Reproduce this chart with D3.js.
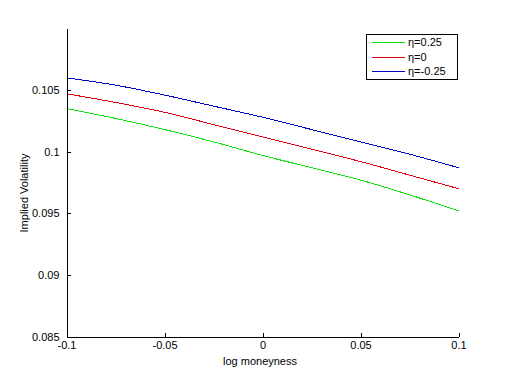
<!DOCTYPE html>
<html><head><meta charset="utf-8">
<script src="https://cdn.jsdelivr.net/npm/d3@7"></script>
<style>
html,body{margin:0;padding:0;background:#fff;}
text{font-family:"Liberation Sans",Arial,sans-serif;font-size:11px;fill:#000;}
</style></head>
<body>
<svg id="c" width="506" height="380"></svg>
<script>
const logMoneyness = [-0.1, -0.075, -0.05, -0.025, 0, 0.025, 0.05, 0.075, 0.1];
const etaPos = [0.1035, 0.1027, 0.1018, 0.1008, 0.0997, 0.0987, 0.0977, 0.0965, 0.0952];
const etaZero = [0.1047, 0.1040, 0.1032, 0.1022, 0.1012, 0.1002, 0.0992, 0.0981, 0.0970];
const etaNeg = [0.1060, 0.1054, 0.1046, 0.1037, 0.1028, 0.1018, 0.1008, 0.0998, 0.0987];
const seriesNames = ["η=0.25", "η=0", "η=-0.25"];
const seriesColors = ["#10e010", "#e00010", "#0000c0"];
const xTicks = [-0.1, -0.05, 0, 0.05, 0.1];
const xTickLabels = ["-0.1", "-0.05", "0", "0.05", "0.1"];
const yTicks = [0.085, 0.09, 0.095, 0.1, 0.105];
const yTickLabels = ["0.085", "0.09", "0.095", "0.1", "0.105"];

const svg = d3.select("#c");
const x = d3.scaleLinear().domain([-0.1, 0.1]).range([66.5, 458.5]);
const y = d3.scaleLinear().domain([0.085, 0.11]).range([336.5, 28.5]);

const series = [etaPos, etaZero, etaNeg];
const line = d3.line().curve(d3.curveMonotoneX).x((d, i) => x(logMoneyness[i])).y(d => y(d));
series.forEach((s, k) => {
  svg.append("path").datum(s).attr("d", line)
    .attr("fill", "none").attr("stroke", seriesColors[k]).attr("stroke-width", 1)
    .attr("shape-rendering", "crispEdges");
});

// axes
const xAxis = d3.axisBottom(x).tickValues(xTicks).tickFormat((d, i) => xTickLabels[i])
  .tickSizeInner(-4).tickSizeOuter(0).tickPadding(7);
const gx = svg.append("g").attr("transform", "translate(0,336.5)").call(xAxis);
const yAxis = d3.axisLeft(y).tickValues(yTicks).tickFormat((d, i) => yTickLabels[i])
  .tickSizeInner(-4).tickSizeOuter(0).tickPadding(7);
const gy = svg.append("g").attr("transform", "translate(66.5,0)").call(yAxis);
[gx, gy].forEach(g => {
  g.selectAll("path,line").attr("stroke", "#000").attr("shape-rendering", "crispEdges");
  g.selectAll("text").style("font-family", "'Liberation Sans',Arial,sans-serif").style("font-size", "11px").attr("fill", "#000");
});
gx.selectAll("text").attr("dy", "0.5em");

svg.append("text").attr("x", 260).attr("y", 365).attr("text-anchor", "middle").text("log moneyness");
svg.append("text").attr("transform", "translate(28,193) rotate(-90)").attr("text-anchor", "middle").text("Implied Volatility");

// legend
const lg = svg.append("g");
lg.append("rect").attr("x", 366.5).attr("y", 34.5).attr("width", 91).attr("height", 45)
  .attr("fill", "#fff").attr("stroke", "#000").attr("shape-rendering", "crispEdges");
seriesNames.forEach((n, k) => {
  const yy = 42 + k * 14.5;
  lg.append("path").attr("d", `M372,${Math.round(yy) + 0.5}H405`)
    .attr("stroke", seriesColors[k]).attr("stroke-width", 1).attr("fill", "none");
  lg.append("text").attr("x", 408).attr("y", yy + 4).text(n);
});
</script>
</body></html>
